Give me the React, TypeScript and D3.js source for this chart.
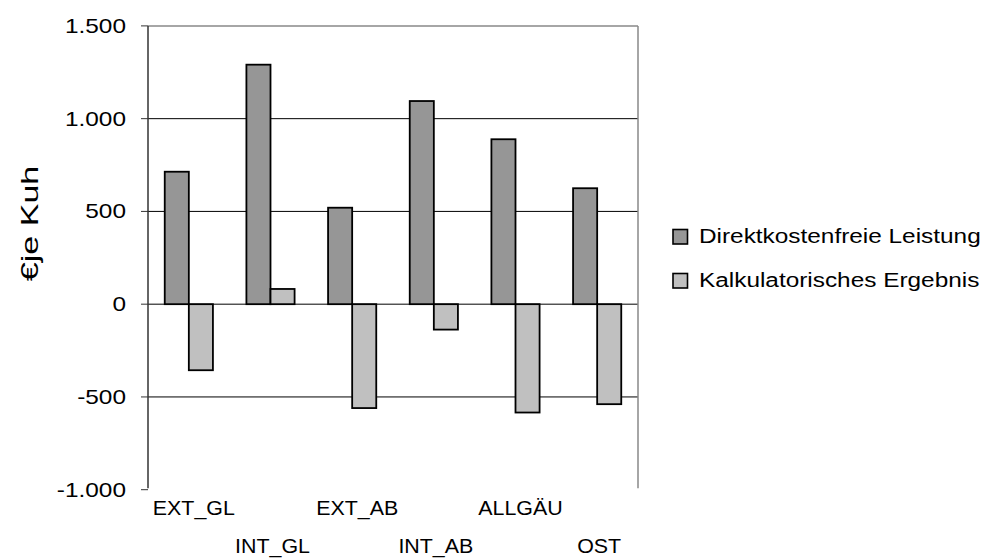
import React from "react";
import * as d3 from "d3";

const categories = ["EXT_GL", "INT_GL", "EXT_AB", "INT_AB", "ALLGÄU", "OST"];
const seriesNames = ["Direktkostenfreie Leistung", "Kalkulatorisches Ergebnis"];
const direktkostenfreie = [714, 1291, 520, 1095, 889, 625];
const kalkulatorisch = [-356, 82, -560, -137, -584, -539];
const yTicks = [-1000, -500, 0, 500, 1000, 1500];
const yTickLabels = ["-1.000", "-500", "0", "500", "1.000", "1.500"];
const yTitle = "€je Kuh";

const colors = ["#969696", "#C0C0C0"];
const FONT = "'Liberation Sans', Arial, sans-serif";

export default function App() {
  const W = 1007, H = 558;
  const left = 148, right = 638, top = 25.9, bottom = 489.7;
  const x0 = d3.scaleBand<string>().domain(categories).range([left, right]).paddingInner(0.41).paddingOuter(0.205);
  const x1 = d3.scaleBand<string>().domain(["0", "1"]).range([0, x0.bandwidth()]);
  const y = d3.scaleLinear().domain([-1000, 1500]).range([bottom, top]);
  const series = [direktkostenfreie, kalkulatorisch];

  return (
    <svg width={W} height={H} style={{ position: "absolute", left: 0, top: 0, background: "#fff" }} fontFamily={FONT}>
      <rect x={0} y={0} width={W} height={H} fill="#fff" />
      {/* gridlines */}
      {yTicks.filter(t => t > -1000 && t < 1500).map(t => (
        <line key={t} x1={left} x2={right} y1={y(t)} y2={y(t)} stroke="#000" strokeWidth={1} />
      ))}
      {/* plot border top/right */}
      <line x1={left} x2={right} y1={y(1500)} y2={y(1500)} stroke="#888" strokeWidth={1.5} />
      <line x1={right} x2={right} y1={y(1500)} y2={y(-1000) - 1.5} stroke="#888" strokeWidth={1.5} />
      {/* bars */}
      {categories.map((c, i) => (
        <g key={c}>
          {series.map((s, j) => {
            const v = s[i];
            const bx = (x0(c) as number) + (x1(String(j)) as number);
            const by = y(Math.max(0, v));
            const bh = Math.abs(y(v) - y(0));
            return (
              <rect key={j} x={bx} y={by} width={x1.bandwidth()} height={bh}
                fill={colors[j]} stroke="#000" strokeWidth={1.8} />
            );
          })}
        </g>
      ))}
      {/* y axis */}
      <line x1={left} x2={left} y1={y(1500)} y2={y(-1000) - 1.5} stroke="#333" strokeWidth={1.5} />
      {yTicks.map((t, i) => (
        <g key={t}>
          <line x1={left - 7} x2={left} y1={y(t)} y2={y(t)} stroke="#333" strokeWidth={1} />
          <text transform={`translate(126,${y(t) + 7}) scale(1.22,1)`} textAnchor="end" fontSize={20} fill="#000">
            {yTickLabels[i]}
          </text>
        </g>
      ))}
      {/* y title */}
      <text transform={`translate(38,${223.5}) rotate(-90) scale(1.42,1)`} textAnchor="middle" fontSize={24} fill="#000">
        {yTitle}
      </text>
      {/* x labels */}
      {categories.map((c, i) => {
        const cx = (x0(c) as number) + x0.bandwidth() / 2;
        const by = i % 2 === 0 ? 515 : 553;
        return (
          <text key={c} transform={`translate(${cx + (i % 2 === 0 ? 5 : 2)},${by}) scale(1.07,1)`} textAnchor="middle" fontSize={20} fill="#000">
            {c}
          </text>
        );
      })}
      {/* legend */}
      {seriesNames.map((n, j) => (
        <g key={n} transform={`translate(0,${j * 44})`}>
          <rect x={673} y={229.5} width={14.5} height={14.5} fill={colors[j]} stroke="#000" strokeWidth={1.6} />
          <text transform={`translate(699,243.3) scale(1.25,1)`} fontSize={19.5} fill="#000">{n}</text>
        </g>
      ))}
    </svg>
  );
}
